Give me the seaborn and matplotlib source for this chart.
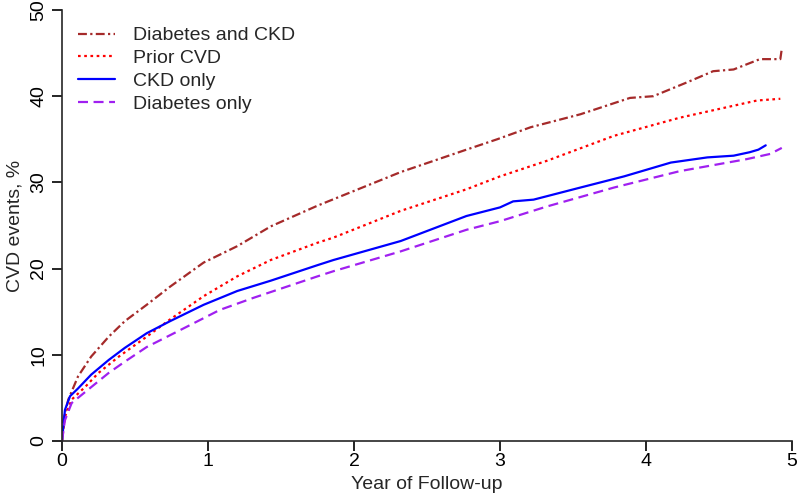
import pandas as pd
import numpy as np
import matplotlib
matplotlib.use('Agg')
import matplotlib.pyplot as plt
import seaborn as sns
from matplotlib.lines import Line2D

# Values (years of follow-up, cumulative CVD events %)
dm_ckd_years = [0, 0.01, 0.043, 0.11, 0.20, 0.32, 0.43, 0.58, 0.74, 0.97, 1.20, 1.43, 1.75,
                2.32, 2.77, 2.98, 3.21, 3.55, 3.89, 4.05, 4.28, 4.46, 4.60, 4.78, 4.92, 4.93]
dm_ckd_vals = [0, 2.5, 4.8, 7.5, 9.8, 12.1, 13.9, 15.8, 17.9, 20.7, 22.6, 24.9, 27.3,
               31.2, 33.8, 35.0, 36.4, 37.9, 39.8, 40.0, 41.6, 42.9, 43.1, 44.3, 44.3, 45.5]

cvd_years = [0, 0.02, 0.066, 0.16, 0.25, 0.39, 0.58, 0.74, 0.97, 1.20, 1.43, 1.75, 1.86,
             2.32, 2.77, 3.00, 3.32, 3.78, 4.23, 4.76, 4.92]
cvd_vals = [0, 2.8, 4.8, 6.3, 7.9, 9.8, 12.1, 14.1, 16.8, 19.1, 21.0, 23.0, 23.6,
            26.7, 29.2, 30.7, 32.5, 35.4, 37.5, 39.5, 39.7]

ckd_years = [0, 0.02, 0.055, 0.11, 0.20, 0.32, 0.43, 0.58, 0.74, 0.97, 1.20, 1.43, 1.75, 1.86,
             2.32, 2.77, 3.00, 3.09, 3.23, 3.55, 3.85, 4.17, 4.42, 4.60, 4.71, 4.77, 4.82]
ckd_vals = [0, 3.6, 5.2, 6.1, 7.7, 9.4, 10.8, 12.5, 13.9, 15.8, 17.4, 18.6, 20.4, 21.0,
            23.2, 26.1, 27.1, 27.8, 28.0, 29.4, 30.7, 32.3, 32.9, 33.1, 33.5, 33.8, 34.3]

dm_years = [0, 0.02, 0.066, 0.16, 0.32, 0.43, 0.58, 0.86, 1.08, 1.31, 1.75, 1.86,
            2.32, 2.77, 3.00, 3.32, 3.78, 4.23, 4.69, 4.85, 4.93]
dm_vals = [0, 2.4, 4.4, 5.7, 7.9, 9.2, 10.9, 13.3, 15.2, 16.6, 19.1, 19.7,
           22.0, 24.5, 25.5, 27.2, 29.4, 31.3, 32.7, 33.3, 34.0]

groups = ['Diabetes and CKD', 'Prior CVD', 'CKD only', 'Diabetes only']
colors = {'Diabetes and CKD': '#A52A2A', 'Prior CVD': '#FF0000',
          'CKD only': '#0000FF', 'Diabetes only': '#A020F0'}
dashes = {'Diabetes and CKD': (4, 1.5, 1, 1.5), 'Prior CVD': (1.2, 1.6),
          'CKD only': '', 'Diabetes only': (4.5, 2.5)}

frames = []
for name, xs, ys in [('Diabetes and CKD', dm_ckd_years, dm_ckd_vals),
                     ('Prior CVD', cvd_years, cvd_vals),
                     ('CKD only', ckd_years, ckd_vals),
                     ('Diabetes only', dm_years, dm_vals)]:
    frames.append(pd.DataFrame({'year': xs, 'pct': ys, 'group': name}))
df = pd.concat(frames, ignore_index=True)

sns.set_style('ticks')
plt.rcParams['font.family'] = ['Liberation Sans', 'DejaVu Sans']

fig = plt.figure(figsize=(7.97, 4.96), dpi=100)
ax = fig.add_axes([62 / 797, 55 / 496, 730 / 797, 431 / 496])

sns.lineplot(data=df, x='year', y='pct', hue='group', style='group',
             hue_order=groups, style_order=groups, palette=colors, dashes=dashes,
             linewidth=1.6, estimator=None, sort=False, ax=ax, legend=False)

ax.set_xlim(0, 5)
ax.set_ylim(0, 50)
ax.set_xticks([0, 1, 2, 3, 4, 5])
ax.set_yticks([0, 10, 20, 30, 40, 50])
ax.tick_params(direction='out', length=7, width=1.2, labelsize=14, colors='black')
ax.tick_params(axis='x', pad=2)
for lab in ax.get_yticklabels():
    lab.set_rotation(90)
    lab.set_va('center')
ax.set_xlabel('Year of Follow-up', fontsize=14, labelpad=4)
ax.set_ylabel('CVD events, %', fontsize=14, labelpad=5)
sns.despine(ax=ax)
ax.spines['left'].set_linewidth(1.2)
ax.spines['bottom'].set_linewidth(1.2)

handles = []
for g in groups:
    d = dashes[g]
    ls = '-' if d == '' else (0, d)
    handles.append(Line2D([0], [0], color=colors[g], lw=1.6, linestyle=ls))
ax.legend(handles, groups, loc='upper left', bbox_to_anchor=(0.022, 0.961), frameon=False,
          fontsize=14, handlelength=1.9, handletextpad=0.9, labelspacing=0.27,
          borderaxespad=0, borderpad=0)

fig.savefig('out.png', dpi=100)
